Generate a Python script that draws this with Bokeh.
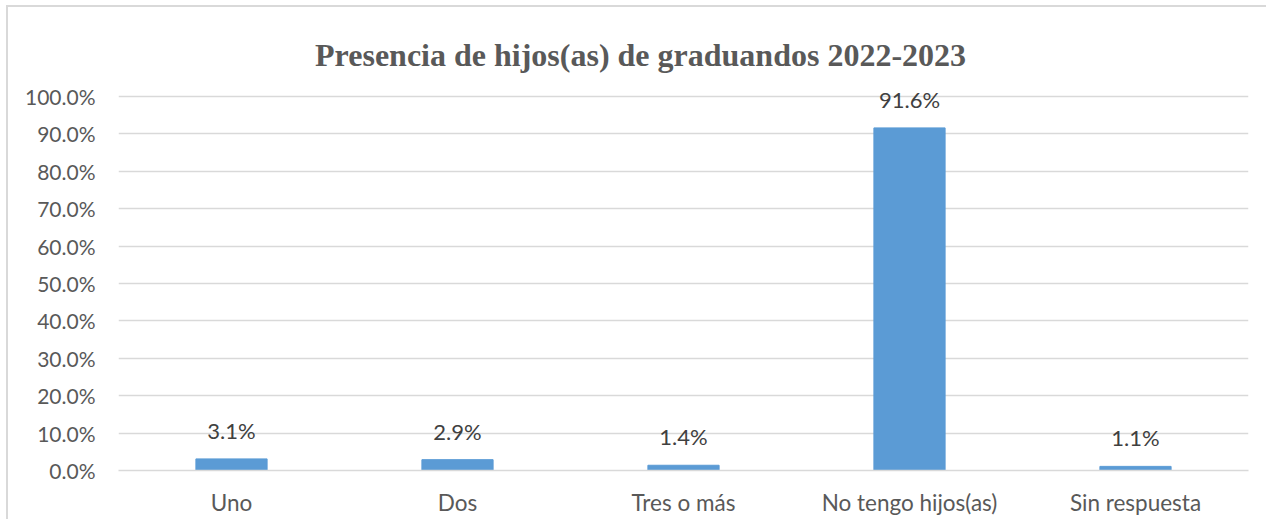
from bokeh.plotting import figure
from bokeh.models import ColumnDataSource, Range1d, FactorRange, Label, LabelSet, CustomJSTickFormatter
from bokeh.embed import file_html
from bokeh.resources import INLINE
from bokeh.core.properties import value

categories = ["Uno", "Dos", "Tres o más", "No tengo hijos(as)", "Sin respuesta"]
values = [3.1, 2.9, 1.4, 91.6, 1.1]
y_ticks = [0, 10, 20, 30, 40, 50, 60, 70, 80, 90, 100]
title_text = "Presencia de hijos(as) de graduandos 2022-2023"

src = ColumnDataSource(dict(cat=categories, val=values,
                            lab=[f"{v:.1f}%" for v in values]))

# canvas is offset by the CSS margin+border below (8px left, 7px top)
p = figure(width=1260, height=514, output_backend="svg", toolbar_location=None,
           x_range=FactorRange(*categories, range_padding=0),
           y_range=Range1d(0, 120.05),
           min_border_left=110, min_border_right=20,
           min_border_top=14, min_border_bottom=51,
           styles={"margin-left": "6px", "margin-top": "5px",
                   "border-left": "2px solid #d9d9d9", "border-top": "2px solid #d9d9d9"})

p.vbar(x="cat", top="val", width=0.315, source=src, color="#5B9BD5")

labels = LabelSet(x="cat", y="val", text="lab", source=src, text_align="center",
                  text_baseline="bottom", y_offset=15, text_font=value("Lato"),
                  text_font_size="22px", text_color="#404040")
p.add_layout(labels)

title = Label(x=2.31, y=110.96, text=title_text,
              text_align="center", text_baseline="alphabetic",
              text_font="Liberation Serif", text_font_size="32px",
              text_font_style="bold", text_color="#595959")
p.add_layout(title)

p.outline_line_color = None
p.xgrid.grid_line_color = None
p.ygrid.grid_line_color = "#d9d9d9"
p.ygrid.grid_line_width = 1.5
p.yaxis.ticker = y_ticks
p.yaxis.formatter = CustomJSTickFormatter(code="return tick.toFixed(1) + '%';")

for ax in (p.xaxis, p.yaxis):
    ax.axis_line_color = None
    ax.major_tick_line_color = None
    ax.minor_tick_line_color = None
    ax.major_label_text_font = "Lato"
    ax.major_label_text_color = "#595959"
p.yaxis.major_label_text_font_size = "21px"
p.xaxis.major_label_text_font_size = "22.5px"
p.yaxis.major_label_standoff = 17
p.xaxis.major_label_standoff = 12
p.xaxis.axis_line_color = "#d9d9d9"
p.xaxis.axis_line_width = 1.5

open("out.html", "w").write(file_html(p, INLINE))
